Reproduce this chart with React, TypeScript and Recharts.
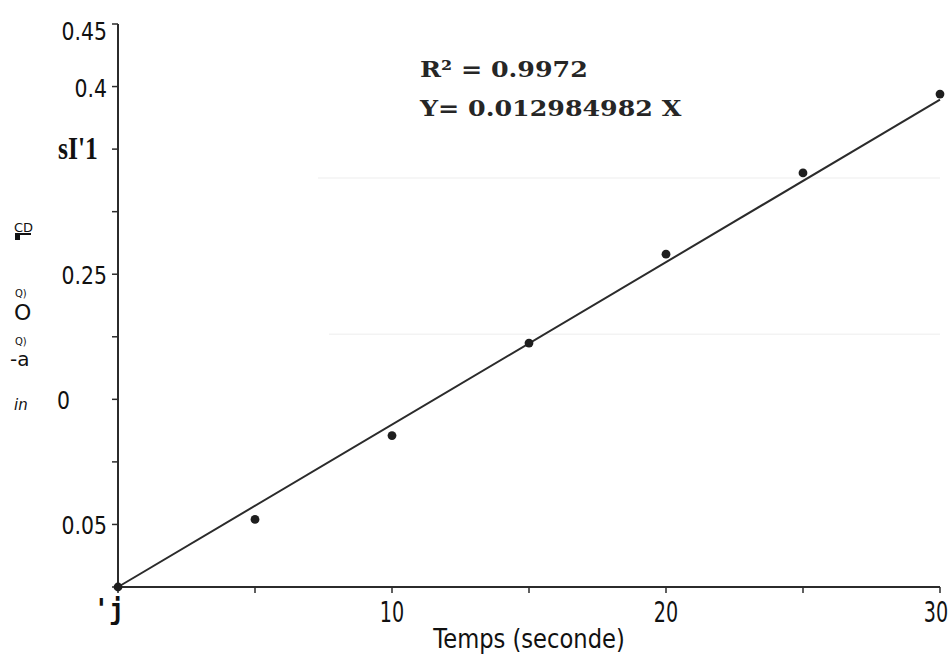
import React from "react";
import {
  ComposedChart, Scatter, Line, XAxis, YAxis, ReferenceLine
} from "recharts";

// measured points (temps en secondes, absorbance)
const times = [0, 5, 10, 15, 20, 25, 30];
const values = [0, 0.054, 0.121, 0.195, 0.266, 0.331, 0.394];

// regression line end points: Y = 0.012984982 X
const fitTimes = [0, 30];
const fitValues = [0, 0.3895];

const xTicks = [0, 5, 10, 15, 20, 25, 30];
const xTickLabels = ["'j", "", "10", "", "20", "", "30"];
const yTicks = [0, 0.05, 0.1, 0.15, 0.2, 0.25, 0.3, 0.35, 0.4, 0.45];
const yTickLabels = ["", "0.05", "", "0", "", "0.25", "", "sI'1", "0.4", "0.45"];

// faint scan lines in the background: [level, start x]
const faintLevels = [0.327, 0.202];
const faintStarts = [7.3, 7.7];

const points = times.map((t, i) => ({ x: t, y: values[i] }));
const fit = fitTimes.map((t, i) => ({ x: t, y: fitValues[i] }));

const SANS = "'DejaVu Sans', Verdana, sans-serif";
const INK = "#2b2b2b";

const squeezed = (x: number, y: number, sx: number, props: any, label: string) => (
  <text transform={`translate(${x},${y}) scale(${sx},1)`} x={0} y={0} {...props}>{label}</text>
);

const YTick = (props: any) => {
  const { x, y, index } = props;
  const label = yTickLabels[index];
  if (!label) return null;
  if (label === "sI'1") {
    return squeezed(58, y + 10, 0.8, {
      textAnchor: "start", fontFamily: "'Liberation Serif', serif", fontWeight: "bold", fontSize: 32, fill: "#111"
    }, label);
  }
  if (label === "0") {
    return squeezed(57, y + 10, 0.85, { textAnchor: "start", fontFamily: SANS, fontSize: 24, fill: "#111" }, label);
  }
  const dy = label === "0.45" ? 16 : 10;
  return squeezed(x - 3, y + dy, 0.85, { textAnchor: "end", fontFamily: SANS, fontSize: 24, fill: "#111" }, label);
};

const XTick = (props: any) => {
  const { x, y, index } = props;
  const label = xTickLabels[index];
  if (!label) return null;
  if (index === 0) {
    return squeezed(x - 9, y + 24, 0.9, {
      textAnchor: "middle", fontFamily: "'DejaVu Sans Mono', monospace", fontWeight: "bold", fontSize: 28, fill: "#111"
    }, label);
  }
  return squeezed(index === 6 ? x - 4 : x, y + 27, 0.66, {
    textAnchor: "middle", fontFamily: SANS, fontSize: 29, fill: "#111"
  }, label);
};

const Dot = (props: any) => {
  const { cx, cy } = props;
  return <circle cx={cx} cy={cy} r={4.4} fill="#1e1e1e" />;
};

const side = (text: string, x: number, y: number, size: number, extra: React.CSSProperties = {}) => (
  <div style={{ position: "absolute", left: x, top: y, fontFamily: SANS, fontSize: size, lineHeight: 1, color: "#111", ...extra }}>
    {text}
  </div>
);

export default function App() {
  return (
    <div style={{ position: "absolute", left: 0, top: 0, width: 951, height: 656, background: "#fff", overflow: "hidden" }}>
      <ComposedChart width={951} height={656} data={points}
        margin={{ top: 24, right: 11, bottom: 39, left: 18 }}>
        {faintLevels.map((v, i) => (
          <ReferenceLine key={v} segment={[{ x: faintStarts[i], y: v }, { x: 30, y: v }]}
            stroke="#f3f3f3" strokeWidth={1.5} />
        ))}
        <XAxis type="number" dataKey="x" domain={[0, 30]} ticks={xTicks} height={30}
          axisLine={{ stroke: INK, strokeWidth: 2 }} tickLine={{ stroke: INK, strokeWidth: 1.5 }}
          tickSize={6} tick={<XTick />} interval={0} />
        <YAxis type="number" dataKey="y" domain={[0, 0.45]} ticks={yTicks} width={100}
          axisLine={{ stroke: INK, strokeWidth: 2 }} tickLine={{ stroke: INK, strokeWidth: 1.5 }}
          tickSize={6} tick={<YTick />} interval={0} />
        <Line data={fit} dataKey="y" type="linear" stroke={INK} strokeWidth={2}
          dot={false} activeDot={false} isAnimationActive={false} />
        <Scatter data={points} dataKey="y" shape={<Dot />} isAnimationActive={false} />
      </ComposedChart>

      {/* regression annotation */}
      <div style={{ position: "absolute", left: 420, top: 50, fontFamily: "'DejaVu Serif', serif",
        fontWeight: "bold", fontSize: 22, lineHeight: "39px", color: "#262626",
        transform: "scaleX(1.15)", transformOrigin: "left top", whiteSpace: "nowrap" }}>
        <div>R² = 0.9972</div>
        <div>Y= 0.012984982 X</div>
      </div>

      {/* scrambled y-axis title from the scan */}
      {side("CD", 14, 221, 13)}
      <div style={{ position: "absolute", left: 15, top: 233, width: 5, height: 7, background: "#111" }} />
      <div style={{ position: "absolute", left: 19, top: 233, width: 12, height: 2, background: "#111" }} />
      {side("Q)", 15, 289, 10)}
      {side("O", 14, 302, 22)}
      {side("Q)", 15, 337, 10)}
      {side("-a", 10, 349, 20)}
      {side("in", 14, 398, 15, { fontStyle: "italic" })}

      {/* x-axis title */}
      <div style={{ position: "absolute", left: 329, width: 400, top: 626, textAlign: "center",
        fontFamily: SANS, fontSize: 26, lineHeight: 1, color: "#111",
        transform: "scaleX(0.87)", transformOrigin: "center top" }}>
        Temps (seconde)
      </div>
    </div>
  );
}
